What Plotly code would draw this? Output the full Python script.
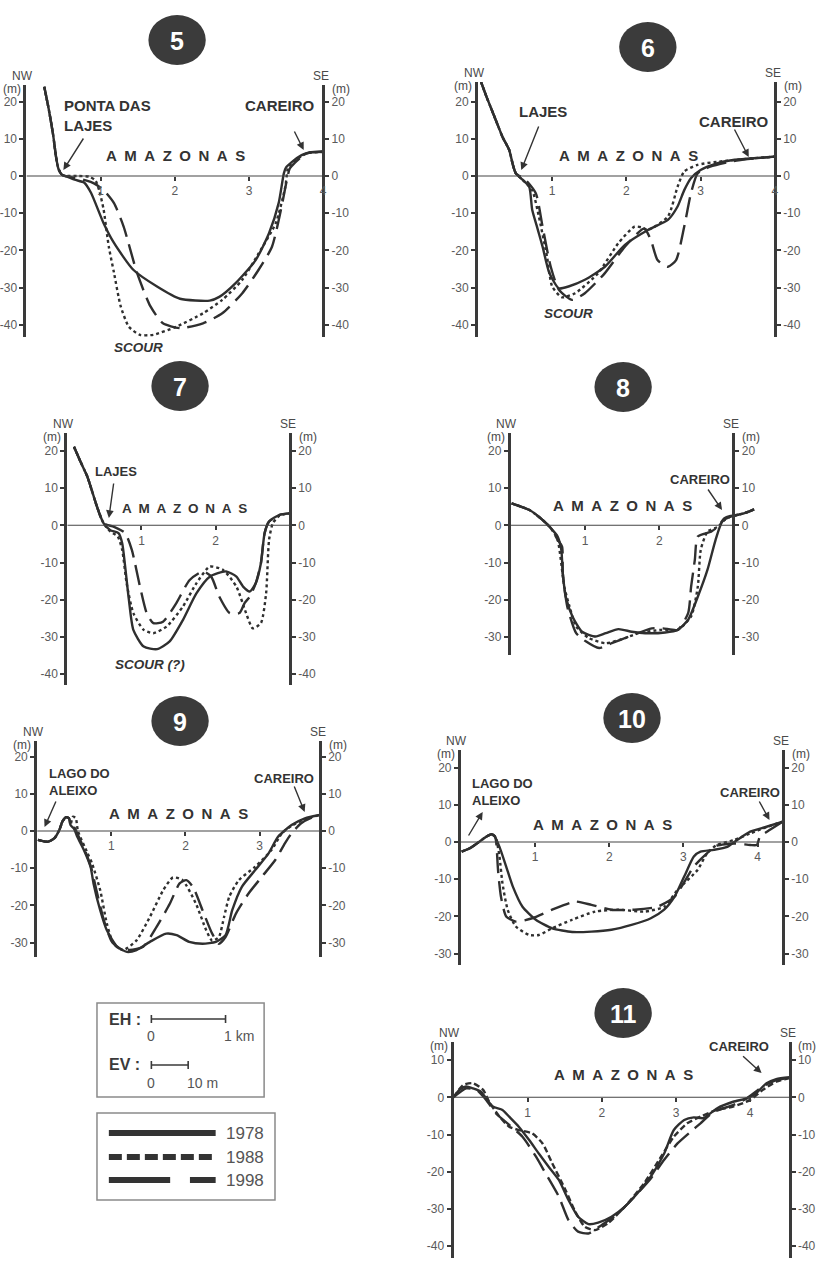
import plotly.graph_objects as go

W, H = 818, 1266
PX_KM = 75.0
PX_M = 3.72
FONT = "Arial, 'Liberation Sans', Helvetica, sans-serif"
INK = "#2f2f2f"
AXIS = "#3a3a3a"
TICK = "#5a5a5a"

YEARS = ["1978", "1988", "1998"]

# ---------------- data (distance km, elevation m) ----------------
# Panel 5
P5_KM_1978 = [0.24, 0.3, 0.36, 0.4, 0.43, 0.48, 0.55, 0.65, 0.78, 0.87, 1.04, 1.18, 1.44, 1.76, 2.07, 2.47, 2.6, 2.82, 3.09, 3.27, 3.4, 3.47, 3.5, 3.58, 3.71, 3.8, 4.0]
P5_M_1978 = [24, 18, 11, 5, 2, 0.3, -0.2, -1.0, -1.8, -4.5, -12.7, -18, -25.2, -29.7, -33, -33.5, -32.5, -28.8, -22.6, -15.4, -7.3, 0.7, 2.3, 3.8, 5.6, 6.3, 6.5]
P5_KM_1988 = [0.24, 0.3, 0.36, 0.4, 0.43, 0.48, 0.55, 0.7, 0.85, 0.93, 0.98, 1.04, 1.11, 1.18, 1.27, 1.38, 1.53, 1.71, 2.02, 2.38, 2.64, 2.91, 3.13, 3.36, 3.49, 3.53, 3.6, 3.71, 3.8, 4.0]
P5_M_1988 = [24, 18, 11, 5, 2, 0.3, 0, 0, -0.2, -1.2, -3.8, -9, -19, -26, -35, -40.5, -42.7, -42.7, -40.5, -36.9, -33.3, -27.9, -20.8, -12.7, -2.9, 2.5, 3.8, 5.4, 6.2, 6.5]
P5_KM_1998 = [0.24, 0.3, 0.36, 0.4, 0.43, 0.48, 0.6, 0.8, 0.91, 1.04, 1.18, 1.31, 1.49, 1.67, 1.84, 2.07, 2.38, 2.64, 2.91, 3.13, 3.31, 3.44, 3.51, 3.55, 3.62, 3.75, 3.85, 4.0]
P5_M_1998 = [24, 18, 11, 5, 2, 0.3, -0.3, -1.2, -2, -3.8, -7.3, -13.6, -26, -35, -39.6, -40.9, -39.6, -36.9, -31.5, -25.2, -19, -8.2, -1.1, 2, 3.6, 5.8, 6.4, 6.6]

# Panel 6
P6_KM_1978 = [0.04, 0.12, 0.24, 0.33, 0.42, 0.47, 0.51, 0.6, 0.69, 0.73, 0.8, 0.87, 0.96, 1.09, 1.22, 1.44, 1.71, 1.98, 2.29, 2.56, 2.69, 2.78, 2.87, 3.0, 3.22, 3.44, 3.67, 4.0]
P6_M_1978 = [25.3, 21, 15, 10.5, 7, 3, 0.7, -1, -2.9, -9.1, -14, -19, -26, -30.2, -29.7, -27.9, -24.4, -18.5, -14.5, -11.8, -8.2, -3.8, -0.6, 1.6, 3.4, 4.3, 4.7, 5.2]
P6_KM_1988 = [0.04, 0.12, 0.24, 0.33, 0.42, 0.47, 0.51, 0.6, 0.73, 0.82, 0.93, 1.0, 1.13, 1.31, 1.62, 1.89, 2.11, 2.2, 2.29, 2.56, 2.69, 2.78, 2.96, 3.22, 3.67, 4.0]
P6_M_1988 = [25.3, 21, 15, 10.5, 7, 3, 0.7, -1, -3.8, -10.9, -21.7, -29.7, -32.6, -31.5, -26.1, -18.1, -13.6, -13.8, -14.5, -10.9, -2.9, 1.2, 3.0, 3.8, 4.7, 5.2]
P6_KM_1998 = [0.04, 0.12, 0.24, 0.33, 0.42, 0.47, 0.51, 0.64, 0.78, 0.87, 0.98, 1.09, 1.27, 1.44, 1.71, 1.98, 2.24, 2.33, 2.42, 2.56, 2.67, 2.78, 2.87, 2.96, 3.13, 3.44, 3.67, 4.0]
P6_M_1998 = [25.3, 21, 15, 10.5, 7, 3, 0.7, -1, -4.7, -13.6, -24.4, -30.6, -33.3, -31.5, -26.1, -19, -14.1, -17.2, -22.6, -24.4, -22.6, -13.6, -4.7, 0.7, 2.5, 4.0, 4.6, 5.2]

# Panel 7
P7_KM_1978 = [0.09, 0.18, 0.27, 0.4, 0.49, 0.58, 0.69, 0.74, 0.78, 0.83, 0.89, 1.03, 1.21, 1.38, 1.56, 1.74, 1.92, 2.14, 2.28, 2.37, 2.46, 2.54, 2.61, 2.66, 2.72, 2.86, 3.0]
P7_M_1978 = [21.1, 17, 13.1, 5, 0.5, -1.3, -2.1, -4.8, -11.1, -20, -28.1, -32.6, -33.3, -31.2, -25.4, -18.3, -13.8, -12.4, -13.8, -16.5, -17.8, -15.6, -10.2, -2.1, 1, 2.8, 3.2]
P7_KM_1988 = [0.09, 0.18, 0.27, 0.4, 0.49, 0.58, 0.68, 0.74, 0.8, 0.89, 1.03, 1.16, 1.34, 1.56, 1.74, 1.92, 2.1, 2.28, 2.41, 2.5, 2.61, 2.68, 2.72, 2.77, 2.86, 3.0]
P7_M_1988 = [21.1, 17, 13.1, 5, 0.5, -1.7, -3, -6.6, -15.6, -23.6, -28.1, -29, -27.2, -21.8, -15.6, -11.1, -12, -16.5, -23.6, -27.7, -26.3, -18.3, -3.9, 0.5, 2.6, 3.2]
P7_KM_1998 = [0.09, 0.18, 0.27, 0.4, 0.49, 0.63, 0.78, 0.87, 0.98, 1.07, 1.16, 1.29, 1.47, 1.65, 1.83, 1.94, 2.05, 2.19, 2.32, 2.39, 2.46, 2.54, 2.61, 2.66, 2.72, 2.86, 3.0]
P7_M_1998 = [21.1, 17, 13.1, 5, 0.5, -0.4, -2.1, -6.6, -16.5, -23.6, -26.3, -25.9, -20.9, -14.7, -12.4, -13.8, -19.2, -23.6, -23.6, -20.9, -19.2, -15.6, -10.2, -2.1, 1, 2.8, 3.2]

# Panel 8
P8_KM_1978 = [0.01, 0.25, 0.43, 0.54, 0.63, 0.68, 0.7, 0.74, 0.83, 0.96, 1.14, 1.28, 1.45, 1.63, 1.81, 2.08, 2.25, 2.39, 2.52, 2.65, 2.76, 2.85, 2.96, 3.14, 3.28]
P8_M_1978 = [5.9, 4.1, 1.4, -0.8, -3, -6.6, -12.9, -19.2, -24.5, -28.6, -29.9, -29, -27.9, -28.6, -29, -28.8, -28.1, -25.4, -19.2, -12, -3.9, 1, 2.3, 3.2, 4.3]
P8_KM_1988 = [0.01, 0.25, 0.43, 0.54, 0.63, 0.72, 0.79, 0.88, 1.05, 1.28, 1.54, 1.72, 2.03, 2.25, 2.43, 2.52, 2.56, 2.65, 2.79, 2.88, 2.96, 3.14, 3.28]
P8_M_1988 = [5.9, 4.1, 1.4, -0.8, -3.9, -16.5, -21.8, -27.2, -30.3, -31.7, -30.3, -29, -28.1, -28.1, -24.5, -16.5, -6.6, -1.7, -0.4, 1.4, 2.3, 3.2, 4.3]
P8_KM_1998 = [0.01, 0.25, 0.43, 0.54, 0.63, 0.69, 0.7, 0.76, 0.88, 1.01, 1.19, 1.36, 1.59, 1.9, 2.05, 2.25, 2.39, 2.43, 2.48, 2.52, 2.7, 2.79, 2.88, 2.96, 3.14, 3.28]
P8_M_1998 = [5.9, 4.1, 1.4, -0.8, -3.9, -5.7, -12.9, -21.8, -29, -31.2, -33, -31.7, -29.9, -27.7, -27.7, -28.1, -23.6, -16.5, -9.3, -3, -1.7, -0.4, 1.9, 2.5, 3.2, 4.3]

# Panel 9
P9_KM_1978 = [0.01, 0.14, 0.23, 0.3, 0.34, 0.39, 0.43, 0.45, 0.5, 0.54, 0.63, 0.72, 0.76, 0.85, 0.94, 1.08, 1.21, 1.34, 1.52, 1.74, 1.88, 2.05, 2.23, 2.41, 2.54, 2.63, 2.76, 2.94, 3.12, 3.25, 3.43, 3.61, 3.81]
P9_M_1978 = [-2.4, -2.9, -2, 0.3, 2.5, 3.7, 3.4, 1.6, 0.5, -1.5, -5.1, -9.6, -14.1, -21.3, -26.7, -31.1, -32.5, -32, -29.8, -27.6, -28, -29.8, -30.3, -29.8, -28, -21.3, -15, -10.5, -6, -1.5, 1.6, 3.4, 4.3]
P9_KM_1988 = [0.01, 0.14, 0.23, 0.3, 0.34, 0.39, 0.43, 0.45, 0.48, 0.52, 0.55, 0.68, 0.74, 0.85, 0.94, 1.03, 1.16, 1.34, 1.52, 1.7, 1.83, 1.96, 2.14, 2.28, 2.36, 2.45, 2.52, 2.59, 2.72, 2.94, 3.16, 3.3, 3.43, 3.61, 3.81]
P9_M_1988 = [-2.4, -2.9, -2, 0.3, 2.5, 3.7, 3.4, 1.6, 3.8, 3.5, 0, -6, -8.7, -15.9, -24.9, -30.3, -32, -29.4, -23.1, -15.9, -12.5, -13.2, -19.5, -26.7, -29.5, -28.5, -23.1, -17.7, -13.2, -9.6, -5.1, -0.6, 1.4, 3.2, 4.3]
P9_KM_1998 = [0.01, 0.14, 0.23, 0.3, 0.34, 0.39, 0.43, 0.45, 0.5, 0.56, 0.65, 0.73, 0.8, 0.9, 1.0, 1.1, 1.25, 1.43, 1.61, 1.79, 1.92, 2.01, 2.1, 2.23, 2.36, 2.45, 2.54, 2.68, 2.85, 3.03, 3.21, 3.34, 3.43, 3.56, 3.7, 3.81]
P9_M_1998 = [-2.4, -2.9, -2, 0.3, 2.5, 3.7, 3.4, 1.6, 1, -1.5, -5.5, -10, -16, -24, -29.5, -31.5, -32, -31.1, -25.8, -19.5, -14.1, -13.2, -15, -21.3, -27.6, -30.3, -28.5, -22.2, -16.8, -12.3, -7.8, -3.3, -0.6, 2.1, 3.6, 4.3]

# Panel 10
P10_KM_1978 = [0.01, 0.12, 0.25, 0.34, 0.41, 0.45, 0.52, 0.61, 0.7, 0.83, 1.01, 1.23, 1.5, 1.76, 2.03, 2.3, 2.56, 2.74, 2.88, 3.01, 3.14, 3.23, 3.41, 3.59, 3.72, 3.9, 4.12, 4.34]
P10_M_1978 = [-2.6, -1.7, 0.1, 1.4, 2.1, 1.6, -1.3, -6.6, -12, -17.4, -20.9, -23.2, -24.2, -24.1, -23.6, -22.3, -20.5, -18.2, -14.7, -9.3, -3.9, -2.6, -2.1, -1.3, 0.5, 2.8, 4.1, 5.5]
P10_KM_1988 = [0.01, 0.12, 0.25, 0.34, 0.41, 0.46, 0.48, 0.52, 0.56, 0.63, 0.74, 0.92, 1.05, 1.23, 1.5, 1.81, 2.12, 2.48, 2.74, 2.92, 3.19, 3.32, 3.45, 3.68, 3.9, 4.12, 4.34]
P10_M_1988 = [-2.6, -1.7, 0.1, 1.4, 2.1, 1.5, 0.5, -3.9, -11.1, -18.2, -22.7, -25, -25, -23.2, -20.9, -18.7, -18.2, -18.7, -17.4, -12.9, -7.5, -3, -0.8, 0.5, 2.3, 4.0, 5.5]
P10_KM_1998 = [0.01, 0.12, 0.25, 0.34, 0.41, 0.46, 0.48, 0.5, 0.54, 0.61, 0.74, 0.96, 1.23, 1.54, 1.76, 2.03, 2.34, 2.65, 2.88, 3.14, 3.32, 3.45, 3.68, 3.9, 3.99, 4.03, 4.16, 4.34]
P10_M_1998 = [-2.6, -1.7, 0.1, 1.4, 2.1, 1.5, -1, -7.5, -14.7, -20, -21.4, -20.5, -18.2, -16, -16.9, -18.2, -18.2, -17.4, -14.7, -6.6, -3, -1, -0.4, -0.8, -0.8, 1.4, 3.2, 5.5]

# Panel 11
P11_KM_1978 = [0, 0.08, 0.17, 0.26, 0.37, 0.44, 0.53, 0.66, 0.75, 0.88, 1.02, 1.15, 1.28, 1.42, 1.55, 1.68, 1.82, 1.95, 2.13, 2.31, 2.48, 2.66, 2.84, 2.97, 3.11, 3.24, 3.37, 3.55, 3.77, 3.95, 4.08, 4.22, 4.35, 4.53]
P11_M_1978 = [0, 2, 2.9, 2.4, 1.5, -0.3, -2.5, -3.4, -5.2, -7.9, -11.5, -15.1, -18.6, -22.2, -27.6, -32.1, -34.1, -33.7, -32.1, -29.4, -25.8, -21.3, -15.1, -8.8, -6.1, -5.4, -5.6, -3, -1.2, -0.3, 1.1, 3.8, 4.9, 5.4]
P11_KM_1988 = [0, 0.13, 0.26, 0.4, 0.48, 0.62, 0.75, 0.88, 1.06, 1.2, 1.33, 1.51, 1.64, 1.77, 1.91, 2.08, 2.31, 2.57, 2.8, 2.97, 3.15, 3.33, 3.55, 3.77, 4.0, 4.17, 4.35, 4.53]
P11_M_1988 = [0, 3.3, 3.8, 2, -1.2, -5.2, -7.9, -8.8, -9.7, -12.4, -17.7, -24.9, -30.7, -34.8, -35.7, -33.9, -29.4, -23.1, -15.9, -10.6, -7, -5.2, -3.4, -2.5, -0.7, 2, 4.2, 5.2]
P11_KM_1998 = [0, 0.17, 0.31, 0.44, 0.57, 0.75, 0.93, 1.11, 1.24, 1.42, 1.55, 1.68, 1.82, 2.0, 2.22, 2.44, 2.66, 2.84, 3.02, 3.2, 3.33, 3.51, 3.77, 3.95, 4.17, 4.35, 4.53]
P11_M_1998 = [0, 2.4, 2, -0.7, -4.3, -7.4, -10.6, -15.9, -20.4, -26.7, -33, -36.1, -36.6, -34.3, -31.2, -26.7, -21.8, -16.8, -12.4, -9.2, -7, -3.9, -2.1, -0.3, 2.9, 4.6, 5.2]

X_TICKS_4 = [1, 2, 3, 4]
X_TICKS_3 = [1, 2, 3]
X_TICKS_2 = [1, 2]
Y_TICKS_A = [20, 10, 0, -10, -20, -30, -40]
Y_TICKS_B = [20, 10, 0, -10, -20, -30]
Y_TICKS_C = [10, 0, -10, -20, -30, -40]

# ---------------- panel geometry (pixels of the page) ----------------
PANELS = [
    dict(num="5", x0=21.7, right=4.0, xmax=4.0, zero=176, top=85, bottom=337, xt=X_TICKS_4, yt=Y_TICKS_A,
         series=[(P5_KM_1978, P5_M_1978), (P5_KM_1988, P5_M_1988), (P5_KM_1998, P5_M_1998)], circ=(174, 40)),
    dict(num="6", x0=478.3, right=4.0, xmax=4.0, zero=176, top=82, bottom=337, xt=X_TICKS_4, yt=Y_TICKS_A,
         series=[(P6_KM_1978, P6_M_1978), (P6_KM_1988, P6_M_1988), (P6_KM_1998, P6_M_1998)], circ=(650, 47)),
    dict(num="7", x0=63.0, right=3.0, xmax=3.0, zero=525.3, top=433, bottom=685, xt=X_TICKS_2, yt=Y_TICKS_A,
         series=[(P7_KM_1978, P7_M_1978), (P7_KM_1988, P7_M_1988), (P7_KM_1998, P7_M_1998)], circ=(177, 386)),
    dict(num="8", x0=511.5, right=3.0, xmax=3.3, zero=525.3, top=433, bottom=655, xt=X_TICKS_2, yt=Y_TICKS_B,
         series=[(P8_KM_1978, P8_M_1978), (P8_KM_1988, P8_M_1988), (P8_KM_1998, P8_M_1998)], circ=(625, 387)),
    dict(num="9", x0=32.5, right=3.81, xmax=3.81, zero=831, top=741, bottom=957, xt=X_TICKS_3, yt=Y_TICKS_B,
         series=[(P9_KM_1978, P9_M_1978), (P9_KM_1988, P9_M_1988), (P9_KM_1998, P9_M_1998)], circ=(177, 721)),
    dict(num="10", x0=461.0, right=4.34, xmax=4.34, zero=842, top=750, bottom=965, xt=X_TICKS_4, yt=Y_TICKS_B,
         series=[(P10_KM_1978, P10_M_1978), (P10_KM_1988, P10_M_1988), (P10_KM_1998, P10_M_1998)], circ=(634, 718)),
    dict(num="11", x0=453.5, right=4.53, xmax=4.53, zero=1097.3, top=1042, bottom=1258, xt=X_TICKS_4, yt=Y_TICKS_C,
         series=[(P11_KM_1978, P11_M_1978), (P11_KM_1988, P11_M_1988), (P11_KM_1998, P11_M_1998)], circ=(625, 1013)),
]

DASH_1998 = "20px,8px"


def px(x):
    return x / W


def py(y):
    return 1 - y / H


def note(x, y, text, size, color="#333333", xanchor="center", yanchor="middle", align="center"):
    return dict(x=px(x), y=py(y), xref="paper", yref="paper", text=text, showarrow=False,
                xanchor=xanchor, yanchor=yanchor, align=align,
                font=dict(size=size, color=color, family=FONT))


fig = go.Figure()
layout = {}
annotations = []
shapes = []

for i, p in enumerate(PANELS, start=1):
    xa = "x" if i == 1 else f"x{i}"
    yl = "y" if i == 1 else f"y{i}"
    yr = f"y{i + 7}"
    xkey = "xaxis" if i == 1 else f"xaxis{i}"
    ylkey = "yaxis" if i == 1 else f"yaxis{i}"
    yrkey = f"yaxis{i + 7}"

    ymin = -(p["bottom"] - p["zero"]) / PX_M
    ymax = (p["zero"] - p["top"]) / PX_M
    xr_px = p["x0"] + p["right"] * PX_KM

    layout[xkey] = dict(
        domain=[px(p["x0"]), px(p["x0"] + p["xmax"] * PX_KM)], range=[0, p["xmax"]],
        anchor="free", position=py(p["zero"]), showline=False, showgrid=False, zeroline=False,
        ticks="outside", ticklen=4, tickwidth=1.5, tickcolor=AXIS,
        tickmode="array", tickvals=p["xt"], ticktext=[str(v) for v in p["xt"]],
        tickfont=dict(size=12, color=TICK, family=FONT), fixedrange=True)
    yaxis_style = dict(
        range=[ymin, ymax], showline=True, linewidth=3, linecolor=AXIS, showgrid=False, zeroline=False,
        ticks="outside", ticklen=4, tickwidth=1.5, tickcolor=AXIS,
        tickmode="array", tickvals=p["yt"], ticktext=[str(v) for v in p["yt"]],
        tickfont=dict(size=12, color=TICK, family=FONT), fixedrange=True)
    layout[ylkey] = dict(domain=[py(p["bottom"]), py(p["top"])], anchor=xa, side="left", **yaxis_style)
    layout[yrkey] = dict(overlaying=yl, anchor="free", position=px(xr_px), side="right", **yaxis_style)

    styles = [dict(dash="solid"), dict(dash="6px,3px" if p["num"] == "11" else "dot"), dict(dash=DASH_1998)]
    for (km, m), yr_name, st in zip(p["series"], YEARS, styles):
        fig.add_trace(go.Scatter(x=km, y=m, xaxis=xa, yaxis=yl, mode="lines", name=yr_name,
                                 line=dict(color=INK, width=2.4, shape="spline", smoothing=0.6, **st),
                                 showlegend=False, hoverinfo="skip"))
    # water line (zero level) between the two vertical axes, tied to the right axis
    fig.add_trace(go.Scatter(x=[0, p["right"]], y=[0, 0], xaxis=xa, yaxis=yr, mode="lines",
                             line=dict(color="#444444", width=1.1), showlegend=False, hoverinfo="skip"))

    # NW / SE / (m) labels
    annotations.append(note(p["x0"] - 4, p["top"] - 9, "NW", 12, "#4a4a4a"))
    annotations.append(note(p["x0"] - 15, p["top"] + 4, "(m)", 12, "#4a4a4a"))
    annotations.append(note(xr_px - 2, p["top"] - 9, "SE", 12, "#4a4a4a"))
    annotations.append(note(xr_px + 18, p["top"] + 4, "(m)", 12, "#4a4a4a"))

    # panel number badge
    cx, cy = p["circ"]
    shapes.append(dict(type="circle", xref="paper", yref="paper", x0=px(cx - 29), x1=px(cx + 29),
                       y0=py(cy + 25), y1=py(cy - 25), fillcolor="#3b3b3b", line=dict(width=0)))
    annotations.append(note(cx, cy + 1, f"<b>{p['num']}</b>", 25, "white"))

AMZ = "\u2002".join("AMAZONAS")

LABELS = [
    ("PONTA DAS<br>LAJES", 58, 116, "left", 15),
    ("CAREIRO", 278, 105, "center", 15),
    (AMZ, 172, 156, "center", 15),
    ("LAJES", 544, 112, "center", 15),
    ("CAREIRO", 737, 121, "center", 15),
    (AMZ, 630, 156, "center", 15),
    ("LAJES", 112, 472, "center", 13),
    (AMZ, 181, 508, "center", 13.5),
    ("CAREIRO", 703, 479, "center", 13),
    (AMZ, 624, 506, "center", 15),
    ("LAGO DO<br>ALEIXO", 42, 782, "left", 13),
    ("CAREIRO", 282, 778, "center", 13),
    (AMZ, 175, 813, "center", 15),
    ("LAGO DO<br>ALEIXO", 470, 792, "left", 13),
    ("CAREIRO", 753, 792, "center", 13),
    (AMZ, 604, 824, "center", 15),
    ("CAREIRO", 742, 1046, "center", 13),
    (AMZ, 625, 1074, "center", 15),
]
for txt, xx, yy, anc, sz in LABELS:
    annotations.append(note(xx, yy, f"<b>{txt}</b>", sz, "#333333", xanchor=anc, align="left"))

for txt, xx, yy in [("SCOUR", 135, 348), ("SCOUR", 570, 314), ("SCOUR (?)", 147, 664)]:
    annotations.append(note(xx, yy, f"<b><i>{txt}</i></b>", 13.5, "#333333"))

# arrows: (tip x, tip y, tail x, tail y)
ARROWS = [(59, 170, 80, 137), (302, 150, 292, 130), (522, 170, 540, 125), (752, 157, 737, 128),
          (105, 518, 110, 482), (725, 510, 710, 488), (40, 827, 52, 800), (303, 812, 292, 785),
          (483, 812, 468, 837), (773, 820, 762, 800), (765, 1073, 745, 1055)]
for tx, ty, sx, sy in ARROWS:
    annotations.append(dict(x=px(tx), y=py(ty), xref="paper", yref="paper", text="", showarrow=True,
                            ax=sx - tx, ay=sy - ty, arrowhead=2, arrowsize=1.1, arrowwidth=1.4,
                            arrowcolor="#333333", standoff=0))

# ---------------- scale box & legend ----------------
BOX = "#8a8a8a"
shapes.append(dict(type="rect", xref="paper", yref="paper", x0=px(93), x1=px(262), y0=py(1097), y1=py(1003),
                   line=dict(color=BOX, width=1.5)))
shapes.append(dict(type="rect", xref="paper", yref="paper", x0=px(93), x1=px(273), y0=py(1200), y1=py(1113),
                   line=dict(color=BOX, width=1.5)))


def hline(x0, x1, y, w, dash="solid", color="#3a3a3a"):
    shapes.append(dict(type="line", xref="paper", yref="paper", x0=px(x0), x1=px(x1), y0=py(y), y1=py(y),
                       line=dict(color=color, width=w, dash=dash)))


def vline(x, y0, y1, w):
    shapes.append(dict(type="line", xref="paper", yref="paper", x0=px(x), x1=px(x), y0=py(y0), y1=py(y1),
                       line=dict(color="#3a3a3a", width=w)))


# EH bar (1 km) and EV bar (10 m)
hline(148, 148 + PX_KM, 1019, 1.6)
vline(148, 1015, 1023, 1.6)
vline(148 + PX_KM, 1015, 1023, 1.6)
hline(148, 148 + 10 * PX_M, 1065, 1.6)
vline(148, 1061, 1069, 1.6)
vline(148 + 10 * PX_M, 1061, 1069, 1.6)

annotations.append(note(103, 1019, "<b>EH :</b>", 16, "#3a3a3a", xanchor="left"))
annotations.append(note(148, 1036, "0", 14, "#555555"))
annotations.append(note(237, 1036, "1 km", 14, "#555555"))
annotations.append(note(103, 1064, "<b>EV :</b>", 16, "#3a3a3a", xanchor="left"))
annotations.append(note(148, 1083, "0", 14, "#555555"))
annotations.append(note(200, 1083, "10 m", 14, "#555555"))

hline(105, 213, 1133, 6, color="#333333")
hline(105, 213, 1157, 6, dash="13px,5px", color="#333333")
hline(105, 167, 1180, 6, color="#333333")
hline(187, 213, 1180, 6, color="#333333")
for yr_name, yy in zip(YEARS, [1133, 1157, 1180]):
    annotations.append(note(221, yy, yr_name, 17, "#555555", xanchor="left"))

fig.update_layout(
    width=W, height=H, margin=dict(l=0, r=0, t=0, b=0), autosize=False,
    paper_bgcolor="white", plot_bgcolor="rgba(0,0,0,0)",
    font=dict(family=FONT), showlegend=False,
    annotations=annotations, shapes=shapes, **layout)

fig.write_html("out.html")
